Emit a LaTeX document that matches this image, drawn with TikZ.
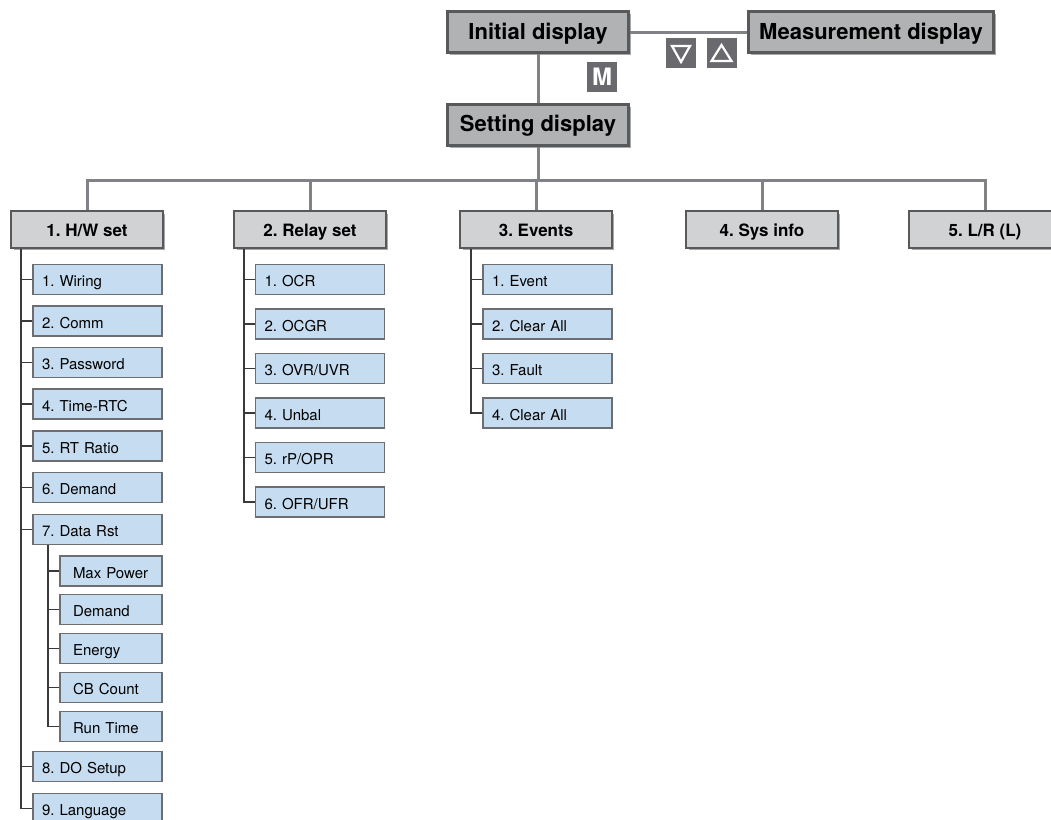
\documentclass[tikz,border=0pt]{standalone}
\usepackage{fontspec}
\setmainfont{TeX Gyre Heros}
\usetikzlibrary{shadows, calc}
\definecolor{panelGrey}{HTML}{B1B2B4}
\definecolor{menuGrey}{HTML}{D1D2D4}
\definecolor{edgeGrey}{HTML}{58595B}
\definecolor{shadeGrey}{HTML}{A7A9AC}
\definecolor{busGrey}{HTML}{808285}
\definecolor{itemBlue}{HTML}{C6DCF0}
\definecolor{itemEdge}{HTML}{6D6E71}
\definecolor{keyGrey}{HTML}{6A6A6E}
\definecolor{treeBlack}{HTML}{3A3A3C}

\begin{document}
\frenchspacing
\begin{tikzpicture}[x=0.5pt, y=-0.5pt,
  disp/.style={draw=edgeGrey, line width=1.5pt, fill=panelGrey, minimum height=20.5pt,
               inner sep=0pt, text height=0.73em, text depth=0pt,
               font=\fontsize{11}{13}\selectfont\bfseries,
               drop shadow={shadow xshift=1.4pt, shadow yshift=-1.4pt, fill=shadeGrey, opacity=1}},
  menu/.style={draw=edgeGrey, line width=1.2pt, fill=menuGrey, minimum width=75.8pt,
               minimum height=18.3pt, inner sep=0pt, text height=0.73em, text depth=0pt,
               font=\fontsize{8.5}{10}\selectfont\bfseries,
               drop shadow={shadow xshift=1.3pt, shadow yshift=-1.3pt, fill=shadeGrey, opacity=1}},
  item/.style={draw=itemEdge, line width=0.7pt, fill=itemBlue, minimum height=15pt,
               inner ysep=0pt, inner xsep=4.5pt, text width=55.5pt, align=left,
               text height=0.73em, text depth=0pt, font=\fontsize{7.5}{9}\selectfont},
  subitem/.style={item, inner xsep=6.5pt, text width=38pt},
  key/.style={fill=keyGrey, minimum width=15pt, minimum height=15pt, inner sep=0pt},
  keydown/.style={key, path picture={
      \draw[white, line width=1.1pt] ($(path picture bounding box.center)+(-9,-7)$)
        -- ++(18,0) -- ($(path picture bounding box.center)+(0,9)$) -- cycle;}},
  keyup/.style={key, path picture={
      \draw[white, line width=1.1pt] ($(path picture bounding box.center)+(0,-8)$)
        -- ($(path picture bounding box.center)+(10,8)$) -- ++(-20,0) -- cycle;}},
  bus/.style={busGrey, line width=1.5pt},
  tree/.style={treeBlack, line width=0.65pt}]

  \clip (0,0) rectangle (1051,820);

  % displays
  \node[disp, minimum width=90.5pt]  (init)    at (538,32)    {Initial display};
  \node[disp, minimum width=122.5pt] (meas)    at (871,32)    {Measurement display};
  \node[disp, minimum width=90.5pt]  (setdisp) at (538,124.5) {Setting display};
  \node[keydown] (btndown) at (681,53) {};
  \node[keyup]   (btnup)   at (721.5,53) {};
  \node[key, text=white, font=\fontsize{12}{14}\selectfont\bfseries] (btnm) at (602,76.5) {M};

  \draw[bus] (init) -- (meas);
  \draw[bus] (init) -- (setdisp);

  % setting menus
  \node[menu] (hw)      at (87,229.5)  {1. H/W set};
  \node[menu] (relay)   at (310,229.5) {2. Relay set};
  \node[menu] (events)  at (536,229.5) {3. Events};
  \node[menu] (sysinfo) at (762,229.5) {4. Sys info};
  \node[menu] (lr)      at (985,229.5) {5. L/R (L)};

  \coordinate (busy) at (536,180);
  \draw[bus] (setdisp) -- (setdisp |- busy);
  \draw[bus] (hw) -- (hw |- busy) -- (lr |- busy) -- (lr);
  \foreach \m in {relay,events,sysinfo}
    \draw[bus] (\m) -- (\m |- busy);

  % H/W set items
  \foreach \y/\t [count=\i] in {279.5/1. Wiring, 321/2. Comm, 362.5/3. Password,
      404/4. Time-RTC, 446/5. RT Ratio, 487.5/6. Demand, 529.5/7. Data Rst,
      766.5/8. DO Setup, 808.5/9. Language}
    \node[item] (hw\i) at (97.5,\y) {\t};
  \foreach \y/\t [count=\i] in {571/Max Power, 609.5/Demand, 648.5/Energy,
      687.5/CB Count, 726.5/Run Time}
    \node[subitem] (dr\i) at (111,\y) {\t};

  % Relay set items
  \foreach \y/\t [count=\i] in {279.5/{1. OCR}, 324/{2. OCGR}, 368.5/{3. OVR/UVR},
      413/{4. Unbal}, 457.5/{5. rP/OPR}, 502/{6. OFR/UFR}}
    \node[item] (rl\i) at (320,\y) {\t};

  % Events items
  \foreach \y/\t [count=\i] in {279.5/1. Event, 324/2. Clear All, 368.5/3. Fault,
      413/4. Clear All}
    \node[item] (ev\i) at (547.5,\y) {\t};

  % tree lines
  \coordinate (hwtrunk) at (21,249);
  \coordinate (drtrunk) at (48,545);
  \coordinate (rltrunk) at (244,249);
  \coordinate (evtrunk) at (471,249);
  \foreach \i in {1,...,9}
    \draw[tree] (hwtrunk) |- (hw\i.west);
  \foreach \i in {1,...,5}
    \draw[tree] (drtrunk) |- (dr\i.west);
  \foreach \i in {1,...,6}
    \draw[tree] (rltrunk) |- (rl\i.west);
  \foreach \i in {1,...,4}
    \draw[tree] (evtrunk) |- (ev\i.west);

\end{tikzpicture}
\end{document}
